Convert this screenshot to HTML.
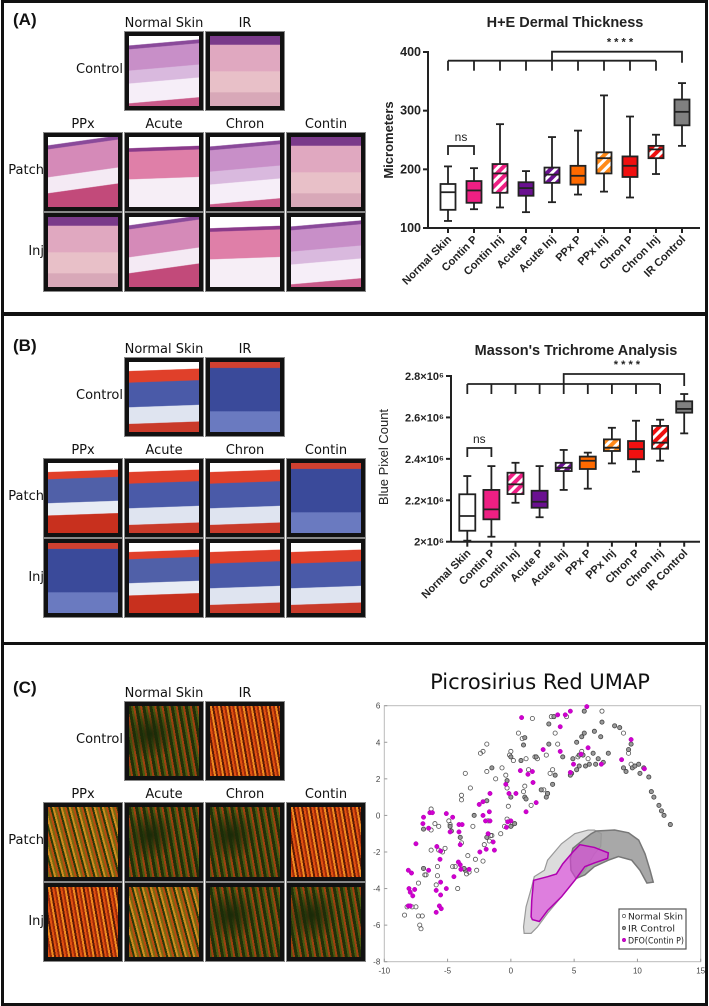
<!DOCTYPE html>
<html><head><meta charset="utf-8">
<style>
*{margin:0;padding:0;box-sizing:border-box}
body{width:709px;height:1006px;background:#fff;position:relative;overflow:hidden;font-family:"Liberation Sans",sans-serif}
.panel{position:absolute;left:1px;width:707px;border:3px solid #111;background:#fff}
.lbl{position:absolute;font-family:"DejaVu Sans","Liberation Sans",sans-serif;font-size:13px;color:#111;white-space:nowrap}
.plab{position:absolute;font-weight:bold;font-size:17px;color:#111}
.tile{position:absolute;width:78px;height:78px;border:4px solid #111;outline:1px solid #888}
.he1{background:linear-gradient(175deg,#fff 0 12%,#8a4a9a 13% 17%,#c88fc8 18% 45%,#d9b9de 46% 62%,#f6eef8 63% 88%,#c95a8a 89%)}
.he2{background:linear-gradient(180deg,#7a3a8a 0 12%,#e0a8c0 13% 50%,#e8c0c8 51% 80%,#d8a8b8 81%)}
.he3{background:linear-gradient(172deg,#fff 0 10%,#8a4a9a 11% 15%,#d58ab8 16% 50%,#f4eaf4 51% 70%,#c24a7a 71%)}
.he4{background:linear-gradient(178deg,#fff 0 15%,#8a3a8a 16% 20%,#df7fa8 21% 58%,#f6eef6 59%)}
.mt1{background:linear-gradient(178deg,#fff 0 12%,#e0402a 13% 28%,#4a5aa8 29% 62%,#dfe4f0 63% 85%,#c93a2a 86%)}
.mt2{background:linear-gradient(180deg,#d04030 0 8%,#3a4a9a 9% 70%,#6a7ac0 71%)}
.mt3{background:linear-gradient(178deg,#fff 0 12%,#e0402a 13% 22%,#5060a8 23% 55%,#e8ecf4 56% 72%,#c8301e 73%)}
.psr1{background:radial-gradient(circle at 30% 40%,#1a2a08,transparent 40%),repeating-linear-gradient(80deg,#4a5a10 0 2px,#a04010 2px 4px,#203008 4px 7px)}
.psr2{background:repeating-linear-gradient(80deg,#e05010 0 2px,#a02a08 2px 4px,#f08a20 4px 6px,#601a04 6px 8px)}
.psr3{background:repeating-linear-gradient(75deg,#7a6a10 0 2px,#b84a10 2px 4px,#2a3a08 4px 6px,#d08a20 6px 8px)}
</style></head><body>

<div class="panel" style="top:0;height:315px"></div>
<div class="panel" style="top:313px;height:332px"></div>
<div class="panel" style="top:642px;height:364px"></div>

<div id="tiles"></div>

<svg id="svgA" width="709" height="1006" style="position:absolute;left:0;top:0">
<defs>
<pattern id="hatch" width="7" height="7" patternUnits="userSpaceOnUse" patternTransform="rotate(45)"><rect width="3" height="7" fill="#fff"/></pattern>
</defs>
</svg>

<script>
// ---------- tissue tiles ----------
const panelOffsets=[0,326,670];
const panelNames=['a','b','c'];
const styleSets=[['he1','he2','he3','he4'],['mt1','mt2','mt3','mt1'],['psr1','psr2','psr3','psr1']];
const colNames=['PPx','Acute','Chron','Contin'];
const colX=[44,125,206,287];
const tilesDiv=document.getElementById('tiles');
function addLabel(txt,x,y,anchor,name){
  const d=document.createElement('div');
  d.className='lbl';d.textContent=txt;
  d.style.top=y+'px';
  if(anchor==='c'){d.style.left=(x-60)+'px';d.style.width='120px';d.style.textAlign='center';}
  else{d.style.left=(x-80)+'px';d.style.width='80px';d.style.textAlign='right';}
  
  
  tilesDiv.appendChild(d);
}
function addTile(x,y,cls,name){
  const t=document.createElement('div');
  t.className='tile '+cls;t.style.left=x+'px';t.style.top=y+'px';
  
  
  tilesDiv.appendChild(t);
}
panelOffsets.forEach((off,p)=>{
  const s=styleSets[p];
  const pl=document.createElement('div');
  pl.className='plab';pl.textContent='('+panelNames[p].toUpperCase()+')';
  pl.style.left='13px';pl.style.top=(off+(p===2?8:10))+'px';
  
  
  tilesDiv.appendChild(pl);
  addLabel('Normal Skin',164,off+16,'c','col-label-normal-skin');
  addLabel('IR',245,off+16,'c','col-label-ir');
  addLabel('Control',123,off+62,'r','row-label-control');
  addTile(125,off+32,s[0],'tile-control-normal');
  addTile(206,off+32,s[1],'tile-control-ir');
  colNames.forEach((c,i)=>{
    addLabel(c,colX[i]+39,off+117,'c','col-label-'+c.toLowerCase());
    addTile(colX[i],off+133,s[(i+2)%4],'tile-patch-'+c.toLowerCase());
    addTile(colX[i],off+213,s[(i+1)%4],'tile-inj-'+c.toLowerCase());
  });
  addLabel('Patch',44,off+163,'r','row-label-patch');
  addLabel('Inj',44,off+244,'r','row-label-inj');
});
</script>

<script>
// ---------- box charts A and B ----------
const categories=['Normal Skin','Contin P','Contin Inj','Acute P','Acute Inj','PPx P','PPx Inj','Chron P','Chron Inj','IR Control'];
const boxColors=['#ffffff','#ee1f83','#ee1f83','#6a1090','#6a1090','#ff6a00','#ff8a1a','#f01010','#f01010','#808080'];
const hatched=[false,false,true,false,true,false,true,false,true,false];
// H+E values: [min,q1,median,q3,max]
const heMin=[112,132,135,127,144,157,162,152,192,240];
const heQ1=[131,143,160,155,177,174,193,187,219,275];
const heMed=[161,164,193,168,191,189,219,206,234,298];
const heQ3=[175,180,209,178,203,206,229,222,240,319];
const heMax=[205,202,277,197,255,266,326,290,259,347];
const heTicks=[100,200,300,400];
// Masson values (x10^6)
const mtMin=[2.005,2.024,2.188,2.118,2.250,2.256,2.378,2.338,2.391,2.523];
const mtQ1=[2.053,2.108,2.230,2.164,2.341,2.351,2.438,2.398,2.449,2.623];
const mtMed=[2.124,2.156,2.277,2.193,2.357,2.391,2.454,2.447,2.478,2.641];
const mtQ3=[2.229,2.250,2.333,2.246,2.381,2.411,2.494,2.486,2.559,2.678];
const mtMax=[2.317,2.365,2.381,2.365,2.443,2.430,2.550,2.584,2.589,2.713];
const mtTicks=[2.0,2.2,2.4,2.6,2.8];
const mtTickLabels=['2×10⁶','2.2×10⁶','2.4×10⁶','2.6×10⁶','2.8×10⁶'];

const NS='http://www.w3.org/2000/svg';
const svg=document.getElementById('svgA');
function el(tag,attrs,parent){const e=document.createElementNS(NS,tag);for(const k in attrs)e.setAttribute(k,attrs[k]);(parent||svg).appendChild(e);return e;}
function txt(s,attrs,parent){const e=el('text',attrs,parent);e.textContent=s;return e;}

function boxChart(cfg){
  const g=el('g',{});
  
  
  const Y=v=>cfg.y0-(v-cfg.vmin)/(cfg.vmax-cfg.vmin)*(cfg.y0-cfg.y1);
  const X=i=>cfg.xStart+i*cfg.dx;
  const hw=cfg.bw/2;
  el('line',{x1:cfg.ax,y1:Y(cfg.vmax)-1,x2:cfg.ax,y2:cfg.y0,stroke:'#222','stroke-width':2},g);
  el('line',{x1:cfg.ax,y1:cfg.y0,x2:700,y2:cfg.y0,stroke:'#222','stroke-width':2},g);
  cfg.ticks.forEach((t,i)=>{
    el('line',{x1:cfg.ax-5,y1:Y(t),x2:cfg.ax,y2:Y(t),stroke:'#222','stroke-width':2},g);
    const tl=txt(cfg.tickLabels?cfg.tickLabels[i]:String(t),{x:cfg.ax-7,y:Y(t)+4,'text-anchor':'end','font-size':cfg.tfs,'font-weight':'bold',fill:'#222'},g);
    
    
  });
  categories.forEach((c,i)=>{
    const x=X(i);
    el('line',{x1:x,y1:cfg.y0,x2:x,y2:cfg.y0+5,stroke:'#222','stroke-width':2},g);
    const lt=txt(c,{x:x+4,y:cfg.y0+12,'text-anchor':'end','font-size':11,'font-weight':'bold',fill:'#222',transform:`rotate(-45 ${x+4} ${cfg.y0+12})`},g);
    
    
    const bg=el('g',{},g);
    
    
    el('line',{x1:x,y1:Y(cfg.max[i]),x2:x,y2:Y(cfg.min[i]),stroke:'#222','stroke-width':1.8},bg);
    el('line',{x1:x-4,y1:Y(cfg.max[i]),x2:x+4,y2:Y(cfg.max[i]),stroke:'#222','stroke-width':1.8},bg);
    el('line',{x1:x-4,y1:Y(cfg.min[i]),x2:x+4,y2:Y(cfg.min[i]),stroke:'#222','stroke-width':1.8},bg);
    el('rect',{x:x-hw,y:Y(cfg.q3[i]),width:cfg.bw,height:Y(cfg.q1[i])-Y(cfg.q3[i]),fill:boxColors[i]},bg);
    if(hatched[i])el('rect',{x:x-hw,y:Y(cfg.q3[i]),width:cfg.bw,height:Y(cfg.q1[i])-Y(cfg.q3[i]),fill:'url(#hatch)'},bg);
    el('rect',{x:x-hw,y:Y(cfg.q3[i]),width:cfg.bw,height:Y(cfg.q1[i])-Y(cfg.q3[i]),fill:'none',stroke:'#222','stroke-width':1.8},bg);
    el('line',{x1:x-hw,y1:Y(cfg.med[i]),x2:x+hw,y2:Y(cfg.med[i]),stroke:'#222','stroke-width':1.8},bg);
  });
  const b=el('g',{fill:'none',stroke:'#222','stroke-width':1.8},g);
  
  
  el('line',{x1:X(0),y1:cfg.br1,x2:X(8),y2:cfg.br1},b);
  for(let i=0;i<=8;i++)el('line',{x1:X(i),y1:cfg.br1,x2:X(i),y2:cfg.br1+10},b);
  el('polyline',{points:`${X(4)},${cfg.br1} ${X(4)},${cfg.br2} ${X(9)},${cfg.br2} ${X(9)},${cfg.br1+2}`},b);
  el('polyline',{points:`${X(0)},${cfg.ns+9} ${X(0)},${cfg.ns} ${X(1)},${cfg.ns} ${X(1)},${cfg.ns+9}`},b);
  const st=txt('* * * *',{x:(X(4)+X(9))/2+3,y:cfg.br2-6,'text-anchor':'middle','font-size':11,'font-weight':'bold',fill:'#222'},g);
  
  
  const ns=txt('ns',{x:(X(0)+X(1))/2,y:cfg.ns-5,'text-anchor':'middle','font-size':12,fill:'#222'},g);
  
  
  const ti=txt(cfg.title,{x:cfg.tx,y:cfg.ty,'text-anchor':'middle','font-size':14.5,'font-weight':'bold',fill:'#222'},g);
  
  
  const yl=txt(cfg.ylab,{x:cfg.ylx,y:cfg.yly,'text-anchor':'middle','font-size':13,'font-weight':cfg.ylw,fill:'#222',transform:`rotate(-90 ${cfg.ylx} ${cfg.yly})`},g);
  
  
}
boxChart({name:'he-box-chart',vmin:100,vmax:400,y0:228,y1:52,ax:428,xStart:448,dx:26,bw:15,min:heMin,q1:heQ1,med:heMed,q3:heQ3,max:heMax,ticks:heTicks,tfs:12.5,br1:60.7,br2:51.7,ns:146,title:'H+E Dermal Thickness',tx:565,ty:27,ylab:'Micrometers',ylx:393,yly:140,ylw:'bold'});
boxChart({name:'masson-box-chart',vmin:2.0,vmax:2.8,y0:541.7,y1:376,ax:451,xStart:467.3,dx:24.1,bw:16,min:mtMin,q1:mtQ1,med:mtMed,q3:mtQ3,max:mtMax,ticks:mtTicks,tickLabels:mtTickLabels,tfs:11,br1:384,br2:374,ns:448,title:"Masson's Trichrome Analysis",tx:576,ty:355,ylab:'Blue Pixel Count',ylx:388,yly:457,ylw:'normal'});
</script>

<script>
// ---------- UMAP scatter ----------
const normX=[-8.4,-8.2,-7.8,-7.5,-7.3,-7.0,-7.2,-7.1,-7.3,-6.8,-6.7,-5.9,-5.8,-5.8,-5.7,-6.3,-6.0,-5.7,-6.3,-6.3,-5.4,-5.2,-4.8,-4.9,-4.4,-4.6,-4.2,-3.9,-3.5,-3.4,-3.3,-3.0,-2.7,-2.8,-2.2,-2.1,-1.6,-1.5,-1.7,-1.8,-3.9,-3.9,-3.6,-3.2,-2.4,-2.2,-1.9,-1.9,-1.2,-0.7,-0.4,-0.3,-0.2,-0.1,0,0.1,0.2,0.6,0.9,1.1,1.0,1.2,1.4,1.7,1.9,2.1,1.6,2.6,2.8,2.9,3.1,3.3,3.5,3.7,3.2,4.4,5.3,5.6,6.1,7.2,8.9,9.3,9.5,-0.8,-0.5,-0.3];
const normY=[-5.45,-5.0,-5.0,-5.0,-5.5,-5.5,-6.0,-6.2,-3.7,-3.25,-3.25,-3.8,-3.3,-2.8,-1.9,-1.9,-0.45,-0.6,0.35,-0.8,-2.0,-1.8,-0.5,-0.3,-2.8,-2.8,-4.0,-1.5,-3.2,-2.2,-3.1,-0.6,-3.0,-2.4,-2.5,-1.6,-1.1,-1.1,-1.4,-0.3,1.1,0.85,2.3,1.5,3.4,3.5,3.9,2.4,2.0,2.6,2.2,1.5,0.5,3.3,3.5,-0.5,3.0,4.5,4.2,1.6,1.3,3.1,2.5,5.3,3.2,3.1,0.55,1.4,3.3,1.2,2.3,2.5,4.5,3.9,5.4,5.4,3.2,3.5,3.1,5.7,4.5,3.4,2.8,-1.0,-0.6,-0.2];
const irX=[-6.9,-6.9,-4.8,-4.7,-4.0,-3.6,-3.7,-2.9,-1.9,-1.9,-1.5,-0.3,0.0,0.0,0.0,0.3,0.8,1.0,1.1,1.1,1.2,2.0,2.4,2.8,2.9,3.0,3.0,3.4,3.3,3.5,4.1,4.8,4.9,5.2,5.2,5.4,5.4,5.6,5.7,5.9,5.8,5.8,6.2,6.5,6.7,6.6,6.9,7.1,7.2,7.3,7.7,8.2,8.6,8.9,9.1,9.3,9.5,9.6,9.8,10.2,10.1,10.5,10.9,11.1,11.3,11.7,11.9,12.1,12.6,4.7];
const irY=[-2.9,-0.75,-0.6,-0.85,-1.2,-3.0,-2.9,0.0,0.8,-1.2,2.6,1.9,1.0,3.2,-0.6,-0.45,3.0,3.85,4.25,1.0,0.9,3.2,1.4,1.0,1.2,3.9,5.0,5.4,1.7,2.2,3.2,2.3,3.1,2.5,4.0,2.7,3.3,4.3,3.3,2.7,4.5,5.7,2.8,3.4,2.8,4.6,3.1,4.3,5.1,2.9,3.4,4.9,4.8,2.6,2.4,3.6,3.9,2.6,2.7,2.3,2.8,2.6,2.1,1.3,1.0,0.55,0.25,0.0,-0.5,2.2];
const dfoX=[0.85,3.7,4.3,4.7,6.0,3.9,3.9,2.55,0.75,1.35,1.7,1.75,1.2,2.0,0.4,-0.15,-0.4,0,-0.35,-0.25,-1.65,-2.2,-2.5,-2.2,-2.0,-1.7,-1.65,-1.8,-1.4,-1.3,-1.95,-2.45,-3.3,-4.0,-4.15,-3.95,-4.5,-4.1,-3.85,-4.1,-4.0,-4.6,-4.8,-5.1,-5.1,-5.6,-5.55,-5.55,-5.65,-5.5,-5.9,-5.9,-5.85,-5.55,-6.5,-6.4,-6.2,-6.5,-6.9,-6.95,-7.5,-8.1,-7.85,-8.05,-7.95,-7.75,-7.6,-8.1,-7.95,4.95,5.55,6.1,7.15,8.75,9.5,10.55,4.7];
const dfoY=[5.35,5.5,5.5,5.7,5.95,4.85,3.5,3.6,2.45,2.25,2.4,1.8,0.2,0.7,1.2,1.2,1.7,-0.3,-0.65,-0.35,1.2,0.75,0.6,0,-0.3,0.2,-0.3,-1.0,-1.45,-1.9,-1.85,-2.0,-2.95,-2.7,-2.55,-2.95,-3.35,-0.5,-0.5,-0.9,-1.6,-0.1,-0.9,0.1,-4.0,-2.4,-3.65,-4.35,-4.95,-5.1,-5.3,-4.1,-1.7,-1.95,-3.0,0.15,0.15,-0.7,-0.1,-0.45,-1.55,-3.0,-3.15,-4.0,-4.2,-4.4,-4.05,-4.95,-4.95,2.8,3.35,3.7,2.8,3.05,4.15,2.55,2.35];
const normRegionX=[1.0,1.2,1.65,1.85,2.65,2.9,4.0,5.05,6.1,6.6,7.15,7.1,6.6,5.85,5.05,4.0,2.9,2.1,1.6,1.05];
const normRegionY=[-6.1,-5.0,-3.9,-3.35,-3.0,-2.45,-1.55,-1.0,-0.8,-0.8,-1.0,-1.7,-2.1,-3.0,-3.55,-4.45,-5.35,-6.1,-6.45,-6.45];
const irRegionX=[4.7,4.9,5.7,6.35,6.75,8.2,9.3,10.1,10.6,11.0,11.25,10.75,10.2,9.55,8.5,7.7,6.6,5.85,5.15,4.75];
const irRegionY=[-2.35,-1.8,-1.35,-1.0,-0.85,-0.8,-0.95,-1.35,-2.1,-3.0,-3.65,-3.7,-3.0,-2.45,-2.25,-2.45,-2.8,-3.25,-3.45,-3.0];
const dfoRegionX=[1.6,1.65,1.8,2.9,3.6,4.1,4.9,5.45,6.6,7.7,7.65,6.6,5.85,5.05,4.0,2.9,2.25,1.7];
const dfoRegionY=[-5.55,-4.65,-3.55,-3.35,-3.2,-2.65,-2.0,-1.6,-1.75,-2.05,-2.35,-2.6,-2.8,-3.55,-4.45,-5.2,-5.8,-5.7];
const uxTicks=[-10,-5,0,5,10,15];
const uyTicks=[-8,-6,-4,-2,0,2,4,6];

(function(){
  const NS='http://www.w3.org/2000/svg';
  const svg=document.getElementById('svgA');
  function el(tag,attrs,parent){const e=document.createElementNS(NS,tag);for(const k in attrs)e.setAttribute(k,attrs[k]);(parent||svg).appendChild(e);return e;}
  const L=384.3,R=700.7,T=705.7,B=961.7;
  const X=v=>L+(v+10)/25*(R-L);
  const Y=v=>B-(v+8)/14*(B-T);
  const g=el('g',{});
  
  
  const t=el('text',{x:540,y:689,'text-anchor':'middle','font-size':21,fill:'#111','font-family':'"DejaVu Sans","Liberation Sans",sans-serif'},g);
  t.textContent='Picrosirius Red UMAP';
  
  
  el('rect',{x:L,y:T,width:R-L,height:B-T,fill:'#fff',stroke:'#bbb','stroke-width':1},g);
  uxTicks.forEach(v=>{
    el('line',{x1:X(v),y1:B,x2:X(v),y2:B-3,stroke:'#999'},g);
    const tl=el('text',{x:X(v),y:B+12,'text-anchor':'middle','font-size':8,fill:'#444'},g);
    tl.textContent=String(v);
    
    
  });
  uyTicks.forEach(v=>{
    el('line',{x1:L,y1:Y(v),x2:L+3,y2:Y(v),stroke:'#999'},g);
    const tl=el('text',{x:L-4,y:Y(v)+3,'text-anchor':'end','font-size':8,fill:'#444'},g);
    tl.textContent=String(v);
    
    
  });
  const pts=(xs,ys)=>xs.map((x,i)=>X(x)+','+Y(ys[i])).join(' ');
  const r1=el('polygon',{points:pts(normRegionX,normRegionY),fill:'#dcdcdc',stroke:'#999','stroke-width':1.2},g);
  
  
  const r2=el('polygon',{points:pts(irRegionX,irRegionY),fill:'#999',stroke:'#777','stroke-width':1.5,'fill-opacity':0.85},g);
  
  
  const r3=el('polygon',{points:pts(dfoRegionX,dfoRegionY),fill:'#e040e0',stroke:'#b000b0','stroke-width':1.5,'fill-opacity':0.6},g);
  
  
  normX.forEach((x,i)=>{
    const c=el('circle',{cx:X(x),cy:Y(normY[i]),r:2.1,fill:'none',stroke:'#555','stroke-width':0.8},g);
    
    
  });
  irX.forEach((x,i)=>{
    const c=el('circle',{cx:X(x),cy:Y(irY[i]),r:2.1,fill:'#999',stroke:'#444','stroke-width':0.8},g);
    
    
  });
  dfoX.forEach((x,i)=>{
    const c=el('circle',{cx:X(x),cy:Y(dfoY[i]),r:2.2,fill:'#d000d0',stroke:'#b000b0','stroke-width':0.5},g);
    
    
  });
  const lg=el('g',{},g);
  
  
  el('rect',{x:619,y:909,width:67,height:40,fill:'#fff',stroke:'#555','stroke-width':1.2},lg);
  const items=[['Normal Skin','none','#555',55],['IR Control','#999','#444',47],['DFO(Contin P)','#d000d0','#b000b0',56]];
  items.forEach((it,i)=>{
    const y=916+i*12;
    el('circle',{cx:624,cy:y,r:1.6,fill:it[1],stroke:it[2],'stroke-width':0.7},lg);
    const tx=el('text',{x:628,y:y+3.5,'font-size':9,fill:'#222',textLength:it[3],lengthAdjust:'spacingAndGlyphs','font-family':'"DejaVu Sans","Liberation Sans",sans-serif'},lg);
    tx.textContent=it[0];
    
    
  });
})();
</script>
</body></html>
